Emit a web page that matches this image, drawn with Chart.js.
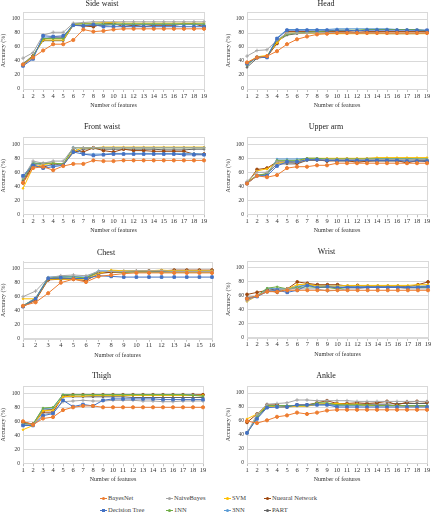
<!DOCTYPE html>
<html>
<head>
<meta charset="utf-8">
<script src="https://cdn.jsdelivr.net/npm/chart.js@4.4.0/dist/chart.umd.min.js"></script>
<style>
  body { margin: 0; background: #fff; width: 432px; height: 513px; position: relative; overflow: hidden; font-family: "Liberation Serif", serif; }
  canvas { position: absolute; }
  .lg { position: absolute; font-size: 6.5px; color: #404040; white-space: nowrap; line-height: 8px; }
  .lg i { position: absolute; left: -8px; top: 4px; width: 7px; height: 1px; }
  .lg b { position: absolute; left: -6px; top: 3px; width: 3px; height: 3px; border-radius: 50%; }
  .lg b.sq { border-radius: 0; }
</style>
</head>
<body>
<div id="legend"></div>
<script>
// categories
const feat19 = ["1","2","3","4","5","6","7","8","9","10","11","12","13","14","15","16","17","18","19"];
const feat16 = ["1","2","3","4","5","6","7","8","9","10","11","12","13","14","15","16"];

const seriesNames = ["BayesNet", "Decision Tree", "NaiveBayes", "1NN", "SVM", "3NN", "Nuearal Network", "PART"];
const seriesColors = ["#ED7D31", "#4472C4", "#A5A5A5", "#70AD47", "#FFC000", "#5B9BD5", "#9E480E", "#636363"];

// accuracy (%) per body part, one row per series in seriesNames order
const sideWaist = [
  [35, 45, 55, 64, 64, 70, 85, 82, 83, 85, 86, 86, 86, 86, 86, 86, 86, 86, 86],
  [33, 43, 76, 75, 76, 91, 90, 92, 89, 89, 89, 89, 89, 89, 89, 89, 89, 89, 89],
  [44, 52, 77, 81, 81, 94, 95, 96, 96, 96, 96, 96, 96, 96, 96, 96, 96, 96, 96],
  [35, 47, 72, 72, 72, 93, 93, 93, 93, 93, 93, 93, 93, 93, 93, 93, 93, 93, 93],
  [35, 47, 70, 70, 70, 92, 94, 94, 95, 95, 94, 94, 94, 94, 94, 94, 94, 94, 94],
  [35, 46, 73, 73, 73, 93, 93, 93, 92, 92, 92, 92, 92, 92, 92, 92, 92, 92, 92],
  [34, 47, 71, 74, 74, 92, 90, 89, 93, 94, 89, 91, 89, 91, 91, 91, 93, 93, 89],
  [36, 48, 69, 69, 69, 91, 91, 91, 91, 92, 92, 91, 92, 92, 92, 92, 93, 93, 91]
];
const head = [
  [38, 45, 47, 54, 64, 71, 75, 78, 79, 80, 80, 80, 80, 80, 80, 80, 80, 80, 80],
  [36, 45, 45, 72, 84, 84, 84, 84, 84, 84, 84, 83, 84, 84, 84, 84, 84, 84, 84],
  [47, 55, 56, 70, 80, 80, 80, 80, 80, 81, 80, 80, 80, 80, 80, 80, 80, 80, 80],
  [34, 46, 46, 70, 78, 80, 81, 82, 83, 84, 84, 84, 85, 85, 85, 85, 85, 85, 83],
  [37, 46, 48, 66, 80, 80, 80, 79, 79, 79, 79, 79, 79, 79, 79, 79, 79, 79, 79],
  [36, 46, 46, 73, 85, 85, 85, 85, 85, 86, 86, 86, 86, 86, 86, 85, 85, 84, 84],
  [37, 45, 46, 65, 82, 82, 82, 82, 82, 82, 82, 81, 82, 82, 82, 82, 82, 82, 82],
  [31, 44, 46, 68, 77, 79, 80, 80, 80, 80, 80, 80, 80, 80, 79, 79, 79, 79, 80]
];
const frontWaist = [
  [45, 66, 68, 63, 69, 72, 72, 77, 76, 76, 77, 77, 77, 77, 77, 77, 77, 77, 77],
  [55, 70, 66, 68, 70, 89, 86, 84, 85, 86, 86, 86, 86, 86, 86, 86, 85, 85, 85],
  [52, 76, 73, 76, 76, 95, 95, 95, 95, 95, 95, 95, 95, 95, 95, 95, 95, 95, 95],
  [50, 73, 73, 73, 72, 95, 95, 95, 95, 95, 95, 95, 95, 95, 95, 95, 95, 95, 95],
  [37, 67, 71, 73, 72, 90, 95, 95, 96, 96, 96, 96, 96, 96, 96, 96, 96, 96, 96],
  [53, 74, 70, 70, 71, 96, 86, 86, 86, 87, 87, 87, 87, 87, 87, 87, 87, 87, 86],
  [45, 70, 67, 72, 70, 91, 89, 95, 91, 89, 93, 91, 91, 90, 90, 90, 90, 86, 86],
  [48, 71, 73, 73, 71, 88, 93, 94, 93, 93, 93, 93, 93, 93, 92, 92, 92, 93, 93]
];
const upperArm = [
  [44, 55, 53, 56, 66, 68, 68, 70, 70, 73, 73, 73, 73, 73, 73, 73, 73, 73, 73],
  [44, 55, 55, 69, 75, 75, 78, 78, 77, 77, 77, 77, 77, 77, 77, 77, 76, 76, 76],
  [47, 60, 60, 75, 75, 74, 78, 78, 78, 78, 78, 78, 78, 78, 78, 78, 78, 78, 78],
  [45, 56, 58, 77, 77, 77, 80, 80, 79, 79, 79, 79, 79, 79, 79, 79, 79, 79, 79],
  [44, 62, 65, 73, 75, 75, 80, 80, 80, 80, 80, 80, 80, 81, 81, 81, 81, 81, 81],
  [45, 55, 56, 79, 79, 79, 80, 80, 79, 79, 80, 79, 80, 80, 80, 80, 80, 79, 79],
  [44, 64, 66, 75, 75, 73, 78, 78, 76, 77, 77, 74, 76, 77, 77, 77, 73, 77, 75],
  [45, 55, 58, 72, 72, 72, 77, 77, 77, 76, 76, 76, 76, 76, 76, 76, 76, 76, 77]
];
const chest = [
  [47, 52, 65, 80, 85, 81, 89, 91, 93, 94, 94, 94, 94, 94, 94, 94],
  [46, 57, 86, 87, 86, 86, 90, 89, 88, 88, 88, 88, 88, 88, 88, 88],
  [60, 68, 87, 90, 91, 90, 96, 96, 96, 97, 97, 97, 96, 96, 96, 96],
  [47, 57, 87, 88, 88, 87, 96, 96, 95, 95, 95, 95, 95, 95, 95, 95],
  [57, 57, 85, 85, 85, 85, 93, 98, 97, 97, 97, 98, 97, 97, 97, 97],
  [47, 58, 88, 89, 89, 88, 97, 97, 97, 97, 97, 97, 97, 97, 97, 97],
  [46, 55, 84, 85, 85, 83, 93, 95, 95, 96, 97, 97, 98, 98, 98, 98],
  [47, 58, 86, 86, 86, 86, 95, 95, 96, 96, 96, 96, 96, 96, 96, 96]
];
const wrist = [
  [56, 60, 66, 66, 68, 68, 68, 68, 68, 68, 68, 68, 68, 68, 68, 68, 68, 68, 68],
  [56, 59, 66, 68, 65, 68, 75, 72, 73, 72, 72, 72, 72, 72, 72, 72, 72, 72, 73],
  [53, 60, 67, 68, 70, 70, 70, 70, 67, 68, 70, 70, 72, 72, 72, 72, 70, 70, 70],
  [55, 60, 71, 73, 70, 72, 73, 72, 72, 70, 72, 72, 72, 72, 72, 72, 72, 72, 72],
  [52, 60, 66, 67, 70, 76, 77, 74, 74, 74, 75, 75, 75, 75, 75, 75, 75, 76, 76],
  [56, 59, 71, 70, 70, 74, 75, 74, 74, 74, 74, 74, 74, 74, 74, 74, 74, 74, 74],
  [62, 65, 68, 65, 70, 80, 78, 76, 76, 76, 74, 75, 74, 74, 74, 74, 73, 76, 80],
  [58, 59, 68, 70, 69, 72, 77, 74, 74, 71, 73, 73, 73, 73, 73, 73, 72, 73, 74]
];
const thigh = [
  [60, 55, 64, 66, 76, 80, 82, 82, 80, 80, 80, 80, 80, 80, 80, 80, 80, 80, 80],
  [54, 54, 68, 71, 90, 81, 84, 82, 90, 92, 92, 92, 92, 92, 91, 91, 91, 91, 91],
  [55, 55, 70, 72, 88, 89, 90, 89, 89, 90, 90, 90, 89, 89, 88, 88, 89, 89, 89],
  [56, 56, 79, 80, 98, 98, 98, 98, 98, 98, 98, 98, 98, 98, 98, 98, 98, 97, 96],
  [48, 54, 75, 76, 95, 96, 96, 97, 97, 97, 97, 97, 97, 97, 97, 97, 97, 97, 97],
  [56, 56, 78, 79, 98, 98, 98, 98, 98, 98, 98, 98, 98, 98, 98, 98, 98, 98, 96],
  [59, 56, 73, 73, 96, 98, 98, 98, 98, 98, 98, 98, 98, 98, 98, 98, 98, 98, 98],
  [57, 56, 76, 77, 95, 95, 95, 95, 95, 95, 95, 94, 94, 94, 94, 94, 94, 94, 94]
];
const ankle = [
  [60, 57, 61, 66, 68, 72, 70, 72, 75, 76, 76, 76, 76, 76, 76, 76, 76, 76, 76],
  [43, 63, 79, 80, 80, 83, 83, 83, 83, 80, 80, 80, 80, 80, 80, 80, 80, 80, 80],
  [42, 70, 84, 85, 86, 90, 90, 89, 89, 89, 89, 88, 88, 88, 88, 88, 88, 88, 88],
  [42, 66, 82, 82, 82, 82, 82, 86, 86, 83, 83, 83, 83, 82, 82, 82, 82, 82, 82],
  [63, 70, 82, 80, 80, 81, 81, 84, 85, 85, 84, 84, 82, 82, 82, 82, 81, 81, 81],
  [43, 67, 82, 82, 82, 82, 82, 83, 83, 82, 82, 82, 82, 82, 82, 82, 82, 82, 82],
  [58, 70, 83, 83, 80, 83, 83, 86, 89, 85, 85, 86, 85, 86, 88, 83, 87, 88, 87],
  [44, 64, 81, 82, 82, 82, 82, 84, 84, 84, 84, 84, 84, 84, 84, 85, 85, 85, 85]
];

const yTicks = [0, 20, 40, 60, 80, 100];

// marker style per series
const pointStyles = ["circle", "rect", "cross", "circle", "circle", "circle", "circle", "circle"];
const pointSizes = [1.6, 1.8, 1.8, 0.8, 0.8, 0.8, 1.4, 0.9];

// panel placement (title centre, plot top, zero line, right edge of plot)
const panels = [
  { title: "Side waist",  labels: feat19, data: sideWaist,  col: 0, titleY: 3.5,   plotTop: 12,    zeroY: 89,    plotRight: 204 },
  { title: "Head",        labels: feat19, data: head,       col: 1, titleY: 3.5,   plotTop: 12,    zeroY: 89,    plotRight: 427 },
  { title: "Front waist", labels: feat19, data: frontWaist, col: 0, titleY: 126.7, plotTop: 137.3, zeroY: 214.3, plotRight: 204 },
  { title: "Upper arm",   labels: feat19, data: upperArm,   col: 1, titleY: 126.7, plotTop: 137.3, zeroY: 214.3, plotRight: 427 },
  { title: "Chest",       labels: feat16, data: chest,      col: 0, titleY: 252.3, plotTop: 261.7, zeroY: 338.7, plotRight: 212 },
  { title: "Wrist",       labels: feat19, data: wrist,      col: 1, titleY: 251.7, plotTop: 261,   zeroY: 337.7, plotRight: 428 },
  { title: "Thigh",       labels: feat19, data: thigh,      col: 0, titleY: 375.7, plotTop: 386.3, zeroY: 463.3, plotRight: 203 },
  { title: "Ankle",       labels: feat19, data: ankle,      col: 1, titleY: 375.7, plotTop: 386,   zeroY: 463,   plotRight: 427 }
];

const frame = {
  id: "frame",
  beforeDatasetsDraw(chart) {
    const a = chart.chartArea, ctx = chart.ctx;
    ctx.save();
    ctx.strokeStyle = "#d9d9d9";
    ctx.lineWidth = 1;
    ctx.strokeRect(Math.round(a.left) + 0.5, Math.round(a.top) + 0.5, Math.round(a.right - a.left), Math.round(a.bottom - a.top));
    ctx.restore();
  }
};

const FONT = "'Liberation Serif', serif";
const titleSize = 8, titleLine = titleSize * 1.2;

panels.forEach(p => {
  const left = p.col === 0 ? 0 : 216;
  const padLeft = p.col === 0 ? 0 : 9;
  const yW = p.col === 0 ? 23 : 22;
  const padRight = p.col === 0 ? 10 : 5;
  const width = Math.round(p.plotRight - left + padRight);
  const top = Math.round(p.titleY - titleLine / 2);
  const height = Math.round(p.zeroY - top + 20);
  const xH = height - (p.zeroY - top);

  const cv = document.createElement("canvas");
  cv.width = width; cv.height = height;
  cv.style.left = left + "px"; cv.style.top = top + "px";
  document.body.appendChild(cv);

  new Chart(cv, {
    type: "line",
    data: {
      labels: p.labels,
      datasets: seriesNames.map((name, i) => ({
        label: name,
        data: p.data[i],
        borderColor: seriesColors[i],
        backgroundColor: seriesColors[i],
        borderWidth: 1,
        pointStyle: pointStyles[i],
        pointRadius: pointSizes[i],
        pointBorderWidth: 1,
        tension: 0
      }))
    },
    options: {
      responsive: false,
      animation: false,
      layout: { padding: { left: padLeft, right: padRight, top: 0, bottom: 0 } },
      plugins: {
        legend: { display: false },
        tooltip: { enabled: false },
        title: {
          display: true, text: p.title, color: "#222",
          font: { family: FONT, size: titleSize, weight: "normal" },
          padding: { top: 0, bottom: p.plotTop - top - titleLine }
        }
      },
      scales: {
        x: {
          offset: false,
          grid: { drawOnChartArea: false, tickLength: 3, color: "#bfbfbf" },
          border: { color: "#d9d9d9" },
          ticks: { font: { family: FONT, size: 6.5 }, color: "#333", padding: 0, maxRotation: 0, autoSkip: false },
          title: { display: true, text: "Number of features", color: "#333", font: { family: FONT, size: 6 }, padding: 0 },
          afterFit(s) { s.height = xH; }
        },
        y: {
          min: 0, max: 110,
          afterBuildTicks(s) { s.ticks = yTicks.map(v => ({ value: v })); },
          grid: { color: "#d9d9d9", drawTicks: false },
          border: { color: "#d9d9d9" },
          ticks: { font: { family: FONT, size: 5.5 }, color: "#333", padding: 3 },
          title: { display: true, text: "Accuracy (%)", color: "#333", font: { family: FONT, size: 6 }, padding: 0 },
          afterFit(s) { s.width = yW; }
        }
      }
    },
    plugins: [frame]
  });
});

// legend below the panels, in the picture's 4 x 2 order
const legendOrder = [0, 2, 4, 6, 1, 3, 5, 7];
const legendX = [108, 174, 232, 272];
const legendY = [494, 506];
const lg = document.getElementById("legend");
legendOrder.forEach((si, k) => {
  const d = document.createElement("div");
  d.className = "lg";
  d.style.left = legendX[k % 4] + "px";
  d.style.top = legendY[Math.floor(k / 4)] + "px";
  const cls = pointStyles[si] === "rect" ? ' class="sq"' : "";
  d.innerHTML = '<i style="background:' + seriesColors[si] + '"></i><b' + cls + ' style="background:' + seriesColors[si] + '"></b>' + seriesNames[si];
  lg.appendChild(d);
});
</script>
</body>
</html>
